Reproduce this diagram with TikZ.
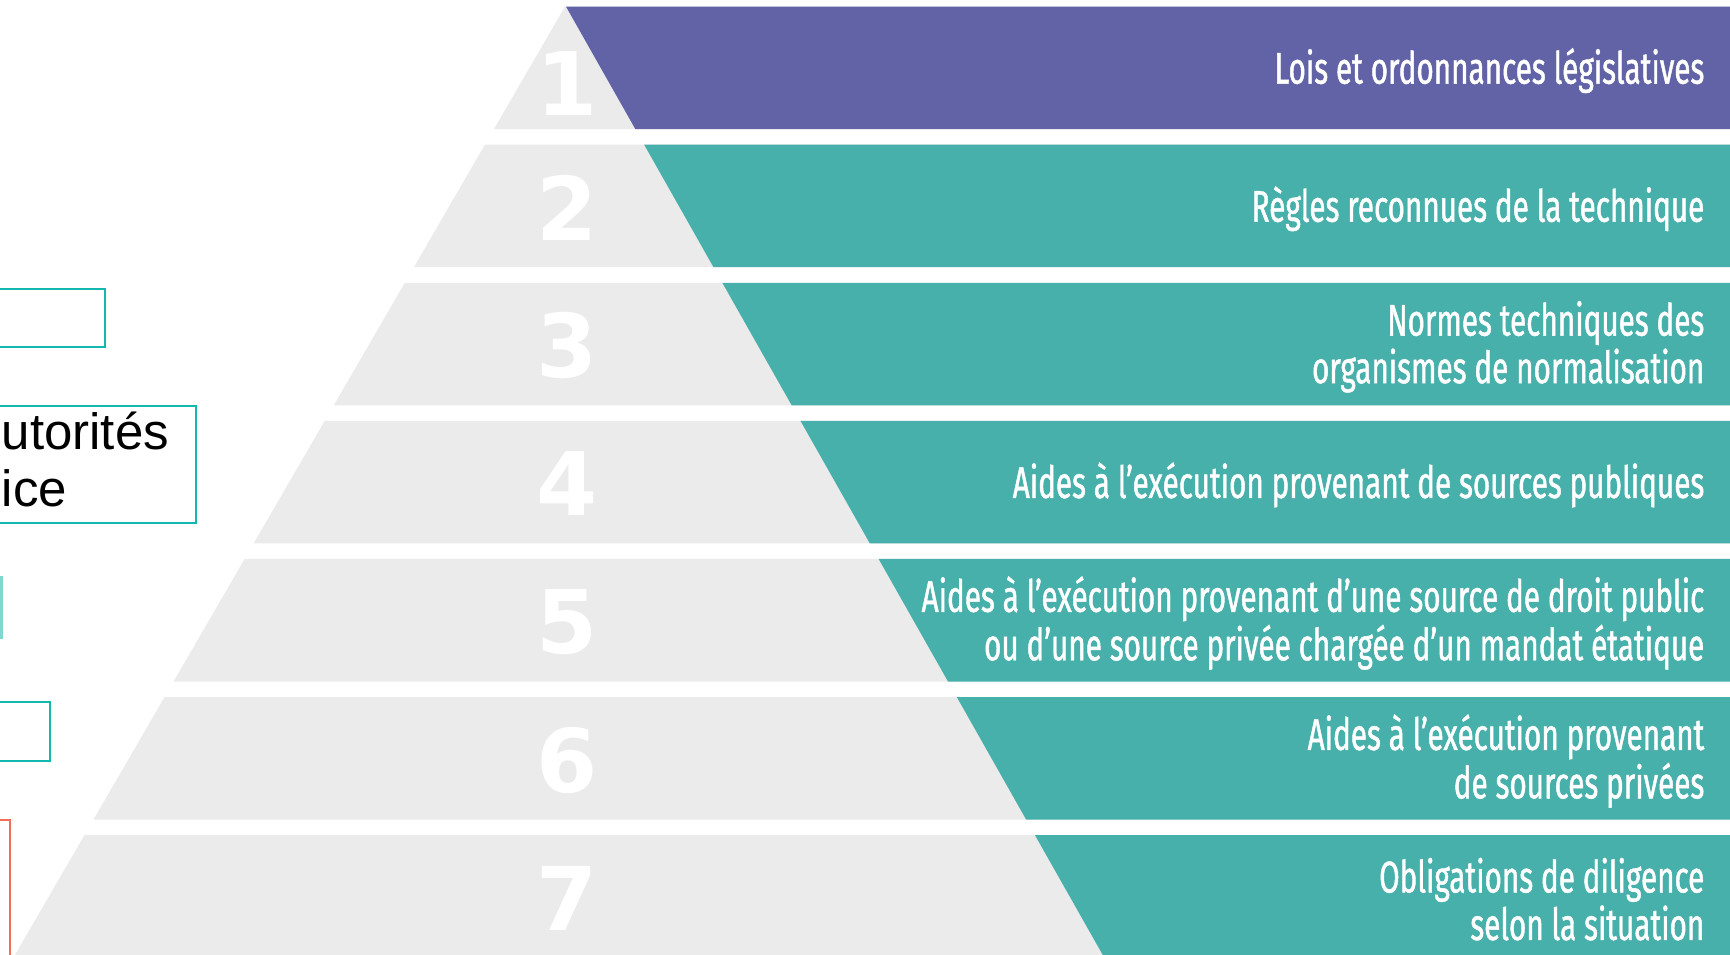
\documentclass[tikz,border=0pt]{standalone}
\usepackage{fontspec}
\setmainfont{Liberation Sans}
\newfontfamily\bandfont[FakeStretch=0.67,FakeBold=1]{Fira Sans}
\newfontfamily\numfont{DejaVu Sans}
\definecolor{pyrgrey}{HTML}{EBEBEB}
\definecolor{purpleband}{HTML}{6163A6}
\definecolor{tealband}{HTML}{47B0AA}
\definecolor{boxteal}{HTML}{14B8AE}
\definecolor{boxlight}{HTML}{7FD8D0}
\definecolor{boxcoral}{HTML}{F26E5A}

\begin{document}
\begin{tikzpicture}[x=0.01cm, y=-0.01cm,
  bandtext/.style={text=white, font=\bandfont\fontsize{12.6}{11.9}\selectfont, align=right, anchor=east, inner sep=0pt},
  levelnum/.style={text=white, font=\numfont\bfseries\fontsize{25}{25}\selectfont, inner sep=0pt},
  sidebox/.style={line width=0.85pt, draw=boxteal},
  sidetext/.style={font=\fontsize{14.5}{16}\selectfont, anchor=base west, inner sep=0pt}]
%
\useasboundingbox (0,0) rectangle (1730,955);
\clip (0,0) rectangle (1730,955);
% pyramid levels
\foreach \k/\fillc/\txt in {1/purpleband/{Lois et ordonnances législatives},
  2/tealband/{Règles reconnues de la technique},
  3/tealband/{Normes techniques des\\organismes de normalisation},
  4/tealband/{Aides à l’exécution provenant de sources publiques},
  5/tealband/{Aides à l’exécution provenant d’une source de droit public\\ou d’une source privée chargée d’un mandat étatique},
  6/tealband/{Aides à l’exécution provenant\\de sources privées},
  7/tealband/{Obligations de diligence\\selon la situation}} {
\pgfmathsetmacro{\ytop}{6.6+(\k-1)*138.1}
\pgfmathsetmacro{\ybot}{\ytop+122.5}
\fill[pyrgrey] ({565-0.58*(\ytop-6.6)},\ytop) -- (1730,\ytop) -- (1730,\ybot) -- ({565-0.58*(\ybot-6.6)},\ybot) -- cycle;
\fill[\fillc] ({566+0.566*(\ytop-6.6)},\ytop) -- (1730,\ytop) -- (1730,\ybot) -- ({566+0.566*(\ybot-6.6)},\ybot) -- cycle;
\node[levelnum] (num\k) at (567,{\ytop+63+(\k==1)*14}) {\k};
\node[bandtext] (lvl\k) at (1705,{\ytop+64}) {\txt};
}

% side boxes (cut at the left edge)
\draw[sidebox] (-50,289) rectangle (105,347);
\draw[sidebox] (-50,406) rectangle (196,523);
\node[sidetext] (noteA) at (1,450) {utorités};
\node[sidetext] (noteB) at (1,507) {ice};
\draw[sidebox, draw=boxlight] (-50,577) rectangle (1.5,638);
\draw[sidebox] (-50,702) rectangle (50,761);
\draw[sidebox, draw=boxcoral] (-50,820) rectangle (10,1000);

\end{tikzpicture}
\end{document}
